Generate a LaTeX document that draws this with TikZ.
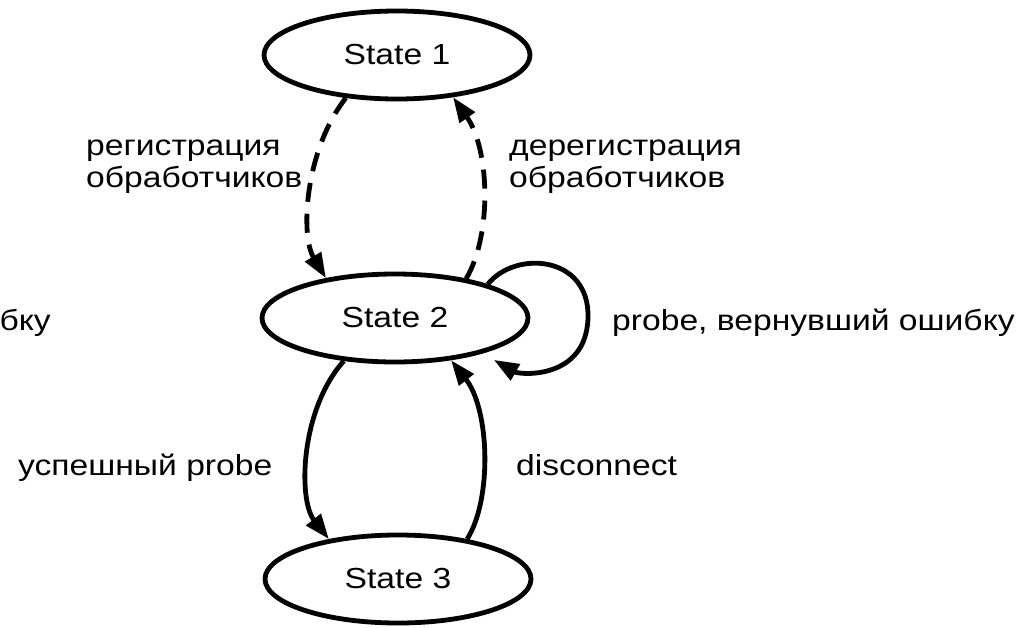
\documentclass[tikz,border=0pt]{standalone}
\usepackage{fontspec}
\setmainfont{Liberation Sans}[FakeStretch=1.16]
\usetikzlibrary{shapes.geometric,arrows.meta}

\begin{document}
\begin{tikzpicture}[x=1pt,y=-1pt,
  font=\fontsize{29}{33}\selectfont,
  state/.style={ellipse,draw,line width=4.8pt,minimum width=266pt,
    minimum height=88pt,inner sep=0pt},
  lbl/.style={anchor=base west,inner sep=0pt},
  edge/.style={line width=4.8pt,-{Triangle[length=25pt,width=18pt]}},
  dashedge/.style={edge,dash pattern=on 19pt off 12pt}]

  \useasboundingbox (0,0) rectangle (1025,627);

  % states
  \node[state] (s1) at (397,55) {State 1};
  \node[state] (s2) at (395,318) {State 2};
  \node[state] (s3) at (398,579) {State 3};

  % handler registration / deregistration
  \draw[dashedge] (s1.220) .. controls (305,150) and (300,235) .. (s2.150);
  \draw[dashedge] (s2.29) .. controls (492,235) and (490,150) .. (s1.323);

  % probe / disconnect
  \draw[edge] (s2.220) .. controls (300,410) and (298,500) .. (s3.150);
  \draw[edge] (s3.30) .. controls (492,500) and (490,410) .. (s2.323);

  % failed probe: self loop
  \coordinate (loopR) at (588,318);
  \draw[edge,shorten >=13pt] (s2.20) .. controls (515,250) and (590,255) .. (loopR)
    .. controls (586,380) and (520,375) .. (s2.338);

  % labels
  \node[lbl] (regA) at (86,155) {регистрация};
  \node[lbl] (regB) at (86,187) {обработчиков};
  \node[lbl] (deregA) at (509,155) {дерегистрация};
  \node[lbl] (deregB) at (509,187) {обработчиков};
  \node[lbl] (fail) at (612,330) {probe, вернувший ошибку};
  \node[anchor=base east,inner sep=0pt] (failcut) at (51,330) {бку};
  \node[lbl] (ok) at (18,475) {успешный probe};
  \node[lbl] (disc) at (516,475) {disconnect};
\end{tikzpicture}
\end{document}
